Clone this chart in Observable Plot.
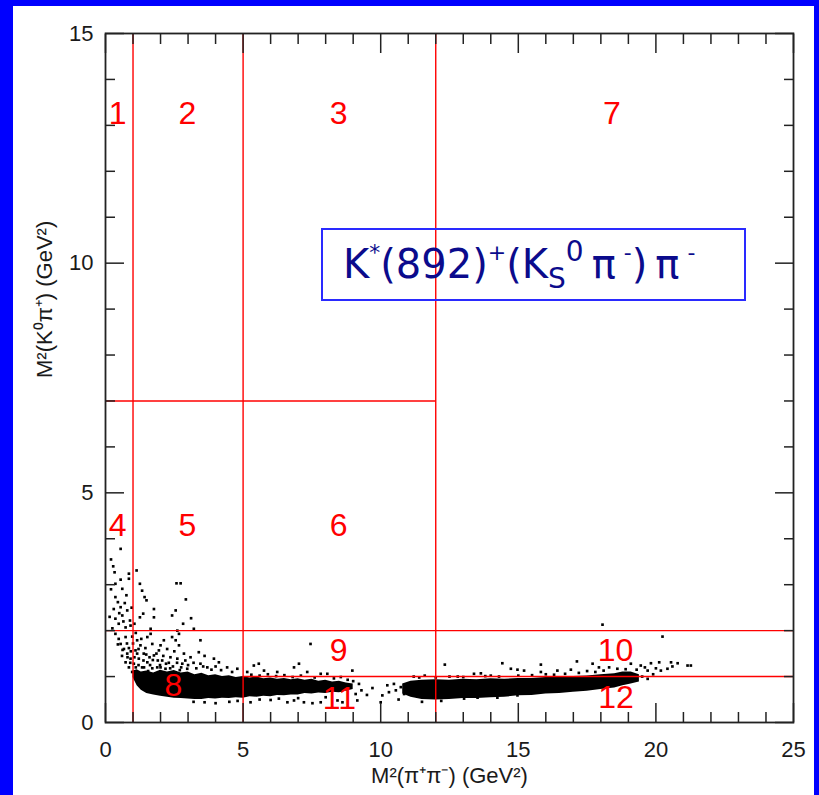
<!DOCTYPE html>
<html>
<head>
<meta charset="utf-8">
<script src="https://cdn.jsdelivr.net/npm/d3@7"></script>
<script src="https://cdn.jsdelivr.net/npm/@observablehq/plot@0.6"></script>
<style>
  html, body { margin: 0; padding: 0; }
  body { width: 819px; height: 795px; background: #0000ff; position: relative; overflow: hidden; }
  #panel { position: absolute; left: 13px; top: 6px; width: 801px; height: 789px; background: #ffffff; }
  #chart { position: absolute; left: 0; top: 0; }
  #legend {
    position: absolute; left: 321px; top: 228px; width: 401px; height: 69px;
    border: 2px solid #2a2aff; background: transparent;
    font-family: "DejaVu Sans", Verdana, sans-serif; font-size: 40px; color: #0b0b8c;
    display: block; line-height: 69px; padding-left: 20px; box-sizing: content-box;
    white-space: nowrap;
  }
  #legend sup { font-size: 0.55em; vertical-align: 0.8em; line-height: 0; }
  #legend sup.big { font-size: 0.7em; vertical-align: 0.6em; }
  #legend sub { font-size: 0.7em; vertical-align: -0.35em; line-height: 0; }
</style>
</head>
<body>
<div id="panel"></div>
<div id="chart"></div>
<div id="legend"><span>K<sup>*</sup>(892)<sup>+</sup>(K<sub>S</sub><sup class="big">0</sup>&thinsp;π&thinsp;<sup>-</sup>)&thinsp;π&thinsp;<sup>-</sup></span></div>
<script>
// ---- axis ticks ----
const xMajorTicks = [0, 5, 10, 15, 20, 25];
const xMinorTicks = [1, 2, 3, 4, 6, 7, 8, 9, 11, 12, 13, 14, 16, 17, 18, 19, 21, 22, 23, 24];
const yMajorTicks = [0, 5, 10, 15];
const yMinorTicks = [1, 2, 3, 4, 6, 7, 8, 9, 11, 12, 13, 14];
const xTitle = "M²(π⁺π⁻) (GeV²)";
const yTitle = "M²(K⁰π⁺) (GeV²)";

// ---- region boundaries ----
const vLineX  = [1, 5, 12];
const vLineY1 = [0, 0, 0];
const vLineY2 = [15, 15, 15];
const hLineY  = [7, 2, 1];
const hLineX1 = [0, 0, 5];
const hLineX2 = [12, 25, 25];

// ---- region labels ----
const regionNames = ["1", "2", "3", "7", "4", "5", "6", "9", "10", "8", "11", "12"];
const regionX = [0.44, 2.98, 8.47, 18.4, 0.44, 2.98, 8.47, 8.47, 18.53, 2.47, 8.5, 18.55];
const regionY = [13.25, 13.25, 13.25, 13.25, 4.29, 4.29, 4.29, 1.57, 1.57, 0.8, 0.51, 0.53];

// ---- dense band (lower / upper edge of the solid black region) ----
const band1X  = [1.0, 1.15, 1.3, 1.5, 1.75, 2.0, 2.25, 2.5, 2.75, 3.0, 3.25, 3.5, 3.75, 4.0, 4.25, 4.5, 4.75, 5.0, 5.25, 5.5, 5.75, 6.0, 6.25, 6.5, 6.75, 7.0, 7.25, 7.5, 7.75, 8.0, 8.25, 8.5, 8.75, 9.0];
const band1Lo = [0.98, 0.8, 0.7, 0.63, 0.6, 0.57, 0.55, 0.53, 0.52, 0.51, 0.5, 0.5, 0.52, 0.51, 0.53, 0.52, 0.54, 0.53, 0.56, 0.55, 0.57, 0.56, 0.59, 0.58, 0.6, 0.6, 0.63, 0.62, 0.64, 0.63, 0.66, 0.65, 0.68, 0.72];
const band1Hi = [1.12, 1.15, 1.1, 1.12, 1.08, 1.14, 1.1, 1.13, 1.08, 1.1, 1.04, 1.07, 1.02, 1.04, 1.0, 1.02, 0.98, 1.0, 0.97, 0.99, 0.95, 0.97, 0.94, 0.96, 0.93, 0.95, 0.92, 0.94, 0.9, 0.92, 0.88, 0.9, 0.86, 0.84];
const band2X  = [10.8, 11.1, 11.5, 12.0, 12.5, 13.0, 13.5, 14.0, 14.5, 15.0, 15.5, 16.0, 16.5, 17.0, 17.5, 18.0, 18.5, 18.8, 19.1, 19.4];
const band2Lo = [0.62, 0.55, 0.5, 0.49, 0.5, 0.52, 0.52, 0.54, 0.55, 0.58, 0.59, 0.62, 0.63, 0.66, 0.68, 0.72, 0.75, 0.8, 0.84, 0.88];
const band2Hi = [0.84, 0.9, 0.92, 0.93, 0.92, 0.94, 0.93, 0.95, 0.94, 0.96, 0.96, 0.98, 0.98, 1.0, 1.01, 1.04, 1.06, 1.1, 1.1, 1.04];

// ---- scattered events ----
const scatterPoints = [
  [0.55,3.78],[0.28,3.40],[0.33,3.27],[0.85,3.24],[0.85,3.13],[1.13,3.31],[0.55,3.11],[0.36,3.02],[0.61,2.91],[0.76,2.77],
  [0.36,2.73],[0.55,2.51],[0.30,2.47],[0.79,2.44],[0.61,2.33],[0.36,2.26],[0.89,2.22],[0.48,2.15],[0.73,2.07],[0.91,2.11],
  [1.25,3.02],[1.33,2.87],[1.42,2.73],[1.49,2.66],[1.37,2.37],[1.76,2.47],[1.76,2.29],[1.64,2.04],[2.58,3.03],[2.73,3.03],
  [2.92,2.68],[2.55,2.44],[2.42,2.33],[2.82,2.15],[3.11,2.27],[3.21,2.04],[2.61,2.0],[1.25,2.29],
  [0.2,3.55],[0.45,2.62],[0.7,2.6],[0.2,2.9],[0.5,2.38],[0.95,2.5],[0.15,2.3],[0.65,2.2],[1.05,2.15],[0.25,2.05],
  [0.36,1.93],[0.48,1.82],[0.55,1.71],[0.67,1.6],[0.79,1.5],[0.91,1.39],[1.03,1.28],[0.73,1.86],[0.97,1.87],[1.15,1.79],
  [1.27,1.68],[1.09,1.57],[1.39,1.5],[1.21,1.39],[1.52,1.31],[1.33,1.2],[1.7,1.71],[1.76,1.46],[1.94,1.57],[2.06,1.35],
  [1.88,1.2],[2.24,1.6],[2.36,1.42],[2.18,1.17],[2.55,1.79],[2.67,1.68],[2.61,1.39],[2.79,1.28],[2.97,1.17],[3.45,1.79],
  [3.39,1.53],[3.94,1.39],[4.12,1.31],[3.45,1.28],[3.7,1.2],[4.42,1.2],[4.79,1.17],[3.09,1.42],[2.85,1.5],[2.42,1.86],
  [2.12,1.79],[1.52,1.86],[1.64,1.93],[2.67,1.93],[0.73,1.31],[0.85,1.2],[0.97,1.1],
  [0.6,1.45],[0.85,1.62],[1.0,1.72],[1.15,1.5],[1.3,1.82],[1.45,1.62],[1.6,1.42],[1.1,1.95],[0.45,1.7],[1.9,1.35],
  [2.0,1.68],[2.3,1.3],[2.5,1.55],[3.2,1.3],[3.6,1.45],[4.0,1.22],[2.9,1.35],[1.55,1.12],[2.7,1.14],
  [0.62,1.58],[0.78,1.72],[0.92,1.55],[1.05,1.42],[1.2,1.6],[1.38,1.35],[1.48,1.48],[1.62,1.25],[1.72,1.36],[1.85,1.5],
  [1.98,1.25],[2.1,1.45],[2.2,1.28],[2.45,1.22],[2.6,1.3],[2.75,1.2],[3.0,1.25],[3.3,1.18],[3.55,1.22],[3.85,1.15],
  [4.2,1.14],[4.6,1.1],[1.2,1.25],[1.4,1.2],[1.7,1.18],[2.0,1.2],[2.35,1.18],[0.9,1.3],[1.1,1.2],[0.8,1.42],
  [5.27,0.44],[6.0,0.49],[6.61,0.44],[6.85,0.48],[7.21,0.44],[7.52,0.42],[7.82,0.44],[8.43,0.48],[8.61,0.44],[9.15,0.48],
  [9.09,0.62],[9.21,0.84],[8.97,1.13],[7.45,1.71],[5.39,1.24],[5.57,1.28],[6.85,1.2],[7.03,1.28],[7.82,1.06],[10.06,0.59],
  [10.24,0.81],[10.48,0.84],[10.55,0.7],[10.73,0.77],[10.85,0.62],[10.0,0.44],[5.15,1.1],[5.76,1.13],[6.24,1.1],[7.33,1.1],
  [8.06,1.06],[8.55,0.99],[9.3,0.7],[9.0,0.9],[4.5,0.45],[4.0,0.42],[3.6,0.44],
  [5.3,1.04],[5.6,1.02],[5.9,1.05],[6.2,1.01],[6.5,1.03],[6.8,0.99],[7.1,1.02],[7.6,0.98],[8.3,0.96],[8.8,0.93],
  [3.2,0.45],[4.8,0.47],[5.6,0.5],[6.3,0.52],[7.0,0.53],[8.0,0.55],[9.5,0.6],[9.7,0.75],[10.3,0.66],[10.65,0.5],
  [18.06,2.13],[20.24,1.87],[12.33,1.26],[14.42,1.29],[15.82,1.26],[17.13,1.33],[17.7,1.28],[17.93,1.2],[19.09,1.28],[19.45,1.24],
  [19.82,1.29],[20.12,1.31],[20.55,1.31],[20.79,1.29],[20.42,1.17],[20.18,1.13],[19.7,1.13],[14.73,1.17],[14.97,1.15],[15.21,1.13],
  [16.42,1.13],[16.91,1.15],[18.6,1.17],[13.39,1.06],[13.64,1.07],[15.82,1.1],[13.03,0.52],[13.52,0.54],[14.24,0.54],[14.97,0.59],
  [21.15,1.24],[21.27,1.24],[11.2,1.0],[11.6,1.02],[12.0,0.98],[12.8,1.0],[14.0,1.02],[16.0,1.05],[17.5,1.12],[18.3,1.2],
  [19.3,1.15],[19.9,1.05],[11.5,0.45],[12.2,0.47],
  [11.4,0.98],[12.5,1.0],[13.0,0.99],[13.8,1.01],[14.3,1.0],[15.0,1.02],[15.5,1.03],[16.3,1.04],[16.7,1.06],[17.2,1.08],
  [17.8,1.1],[18.1,1.13],[18.9,1.16],[19.6,1.2],[20.0,1.18],[20.6,1.22],[19.5,1.0],[19.7,0.95]
];

// ---- build tables ----
const band1 = band1X.map((x, i) => ({x, lo: band1Lo[i], hi: band1Hi[i]}));
const band2 = band2X.map((x, i) => ({x, lo: band2Lo[i], hi: band2Hi[i]}));
const scatter = scatterPoints.map(([x, y]) => ({x, y}));
const vLines = vLineX.map((x, i) => ({x, y1: vLineY1[i], y2: vLineY2[i]}));
const hLines = hLineY.map((y, i) => ({y, x1: hLineX1[i], x2: hLineX2[i]}));
const regions = regionNames.map((t, i) => ({t, x: regionX[i], y: regionY[i]}));

const axisColor = "#222";
const font = "'Liberation Sans', Arial, Helvetica, sans-serif";
const blank = () => "";

const chart = Plot.plot({
  width: 819,
  height: 795,
  marginLeft: 105,
  marginRight: 26,
  marginTop: 33,
  marginBottom: 73,
  x: {domain: [0, 25]},
  y: {domain: [0, 15]},
  style: {background: "transparent", fontFamily: font, color: "#1a1a1a"},
  marks: [
    Plot.areaY(band1, {x: "x", y1: "lo", y2: "hi", fill: "black"}),
    Plot.areaY(band2, {x: "x", y1: "lo", y2: "hi", fill: "black"}),
    Plot.dot(scatter, {x: "x", y: "y", symbol: "square", r: 1.5, fill: "black", stroke: "none"}),
    Plot.ruleX(vLines, {x: "x", y1: "y1", y2: "y2", stroke: "#ff0000", strokeWidth: 1.4}),
    Plot.ruleY(hLines, {y: "y", x1: "x1", x2: "x2", stroke: "#ff0000", strokeWidth: 1.4}),
    Plot.text(regions, {x: "x", y: "y", text: "t", fill: "#ff0000", fontSize: 32, fontFamily: font}),
    // inward ticks
    Plot.axisX(xMajorTicks, {anchor: "bottom", tickSize: -19, tickFormat: blank, label: null, stroke: axisColor, strokeWidth: 1.5}),
    Plot.axisX(xMajorTicks, {anchor: "top", tickSize: -19, tickFormat: blank, label: null, stroke: axisColor, strokeWidth: 1.5}),
    Plot.axisX(xMinorTicks, {anchor: "bottom", tickSize: -10, tickFormat: blank, label: null, stroke: axisColor, strokeWidth: 1.5}),
    Plot.axisX(xMinorTicks, {anchor: "top", tickSize: -10, tickFormat: blank, label: null, stroke: axisColor, strokeWidth: 1.5}),
    Plot.axisY(yMajorTicks, {anchor: "left", tickSize: -19, tickFormat: blank, label: null, stroke: axisColor, strokeWidth: 1.5}),
    Plot.axisY(yMajorTicks, {anchor: "right", tickSize: -19, tickFormat: blank, label: null, stroke: axisColor, strokeWidth: 1.5}),
    Plot.axisY(yMinorTicks, {anchor: "left", tickSize: -10, tickFormat: blank, label: null, stroke: axisColor, strokeWidth: 1.5}),
    Plot.axisY(yMinorTicks, {anchor: "right", tickSize: -10, tickFormat: blank, label: null, stroke: axisColor, strokeWidth: 1.5}),
    // tick labels
    Plot.axisX(xMajorTicks, {anchor: "bottom", tickSize: 0, tickPadding: 19, fontSize: 22, label: null, tickFormat: d => String(d)}),
    Plot.axisY(yMajorTicks, {anchor: "left", tickSize: 0, tickPadding: 12, fontSize: 22, label: null, tickFormat: d => String(d)}),
    // axis titles
    Plot.text([xTitle], {frameAnchor: "bottom", dy: 60, fontSize: 22, fontFamily: font, fill: "#1a1a1a"}),
    Plot.text([yTitle], {frameAnchor: "left", dx: -61, rotate: -90, fontSize: 22, fontFamily: font, fill: "#1a1a1a"}),
    Plot.frame({stroke: axisColor, strokeWidth: 1.8})
  ]
});
document.getElementById("chart").appendChild(chart);
</script>
</body>
</html>
